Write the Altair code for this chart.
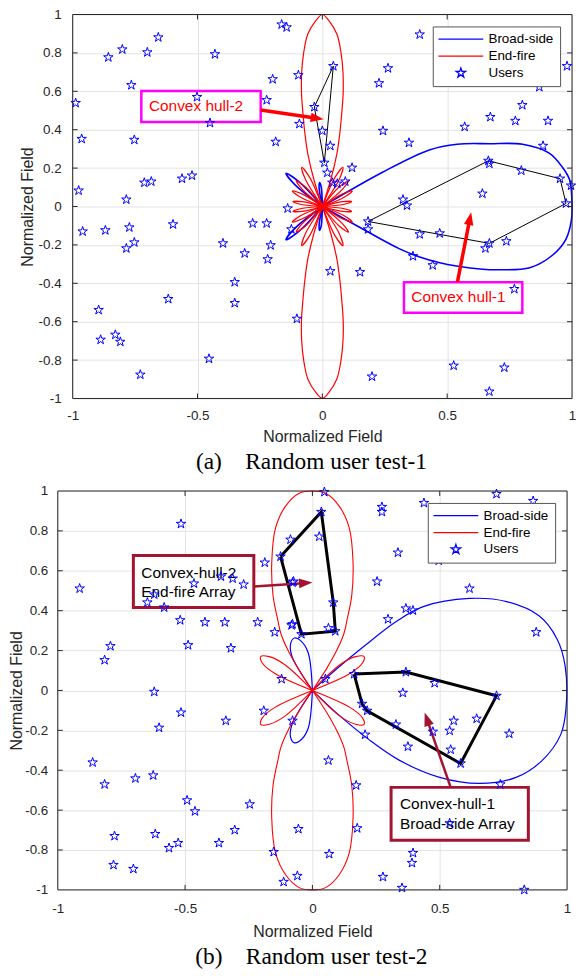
import math
import altair as alt
import pandas as pd

# ---------------- data ----------------
SERIES = ["Broad-side", "End-fire", "Users"]
X_TICKS = [-1, -0.5, 0, 0.5, 1]
Y_TICKS = [-1, -0.8, -0.6, -0.4, -0.2, 0, 0.2, 0.4, 0.6, 0.8, 1]

# panel (a) users
A_UX = [-0.988, -0.964, -0.976, -0.857, -0.801, -0.765, -0.701, -0.657, -0.753, -0.785,
        -0.713, -0.685, -0.562, -0.522, -0.502, -0.430, -0.450, -0.199, -0.223, -0.187,
        -0.163, -0.143, -0.139, -0.096, -0.092, -0.960, -0.869, -0.773, -0.785, -0.753,
        -0.598, -0.279, -0.223, -0.398, -0.311, -0.207, -0.219, -0.351, -0.351, -0.617,
        -0.896, -0.888, -0.829, -0.809, -0.729, -0.454, -0.102, -0.124, 0.390, 0.263,
        0.227, 0.044, -0.032, 0.000, 0.032, 0.008, 0.020, 0.119, 0.040, 0.060,
        0.092, 0.243, 0.347, 0.570, 0.673, 0.773, 0.801, 0.904, 0.869, 0.980,
        0.884, 0.665, 0.669, 0.797, 0.952, 0.996, 0.976, 0.641, 0.323, 0.339,
        0.183, 0.183, 0.390, 0.470, 0.653, 0.669, 0.737, 0.363, 0.442, 0.032,
        0.151, 0.769, 0.526, 0.729, 0.199, 0.669]
A_UY = [0.539, 0.352, 0.083, 0.777, 0.818, 0.632, 0.803, 0.881, 0.347, 0.036,
        0.124, 0.130, 0.145, 0.161, 0.570, 0.793, 0.435, 0.663, 0.554, 0.337,
        0.948, 0.933, -0.010, 0.684, 0.430, -0.130, -0.124, -0.109, -0.218, -0.187,
        -0.093, -0.088, -0.088, -0.192, -0.244, -0.202, -0.275, -0.394, -0.503, -0.482,
        -0.539, -0.694, -0.668, -0.705, -0.876, -0.793, -0.585, -0.119, 0.896, 0.720,
        0.642, 0.731, 0.518, 0.394, 0.316, 0.228, 0.176, 0.202, 0.124, 0.119,
        0.130, 0.394, 0.332, 0.415, 0.466, 0.446, 0.528, 0.446, 0.622, 0.731,
        0.316, 0.238, 0.223, 0.187, 0.145, 0.109, 0.016, 0.067, 0.036, 0.005,
        -0.078, -0.119, -0.145, -0.140, -0.218, -0.192, -0.181, -0.259, -0.306, -0.337,
        -0.342, -0.430, -0.829, -0.839, -0.886, -0.964]

# panel (b) users
B_UX = [-0.914, -0.816, -0.793, -0.516, -0.648, -0.621, -0.582, -0.465, -0.519, -0.488,
        -0.422, -0.344, -0.320, -0.359, -0.313, -0.270, -0.215, -0.187, -0.148, -0.125,
        -0.086, -0.082, -0.074, -0.121, -0.621, -0.516, -0.191, -0.043, 0.047, 0.035,
        0.027, -0.078, 0.082, 0.063, 0.090, -0.078, 0.273, 0.273, 0.438, 0.723,
        0.867, 0.336, 0.559, 0.496, 0.254, 0.617, 0.367, 0.395, 0.297, 0.879,
        0.051, 0.164, 0.367, 0.355, 0.480, 0.723, 0.195, 0.215, 0.328, 0.207,
        0.375, 0.473, 0.539, 0.555, 0.645, 0.773, 0.543, 0.582, 0.063, 0.172,
        0.738, -0.055, 0.176, 0.539, 0.066, 0.395, 0.391, -0.059, 0.277, 0.352,
        0.832, -0.602, -0.340, -0.078, -0.863, -0.816, -0.695, -0.625, -0.492, -0.461,
        -0.246, -0.777, -0.617, -0.563, -0.527, -0.367, -0.305, -0.152, -0.781, -0.703,
        -0.113]
B_UY = [0.511, 0.152, 0.222, 0.835, 0.441, 0.481, 0.416, 0.536, 0.352, 0.227,
        0.342, 0.342, 0.212, 0.571, 0.561, 0.531, 0.342, 0.641, 0.292, 0.671,
        0.756, 0.327, 0.546, 0.057, -0.007, -0.111, -0.102, 0.282, 0.995, 0.895,
        0.771, 0.541, 0.441, 0.312, 0.297, 0.332, 0.920, 0.895, 0.940, 0.985,
        0.950, 0.691, 0.701, 0.651, 0.546, 0.511, 0.411, 0.401, 0.357, 0.292,
        0.057, 0.082, 0.092, -0.012, 0.037, -0.027, -0.067, -0.102, -0.171, -0.222,
        -0.282, -0.207, -0.202, -0.152, -0.142, -0.217, -0.297, -0.366, -0.351, -0.476,
        -0.471, -0.695, -0.691, -0.666, -0.820, -0.815, -0.865, -0.930, -0.935, -0.990,
        -1.0, -0.187, -0.152, -0.152, -0.361, -0.471, -0.441, -0.426, -0.551, -0.606,
        -0.571, -0.730, -0.720, -0.790, -0.765, -0.765, -0.700, -0.810, -0.875, -0.895,
        -0.960]

# convex hulls (closed polygons)
A_HULL1_X = [0.183, 0.665, 0.952, 0.976, 0.669, 0.183]
A_HULL1_Y = [-0.078, 0.238, 0.145, 0.016, -0.192, -0.078]
A_HULL2_X = [0.044, -0.032, 0.008, 0.044]
A_HULL2_Y = [0.731, 0.518, 0.228, 0.731]
B_HULL1_X = [0.164, 0.367, 0.723, 0.582, 0.215, 0.195, 0.164]
B_HULL1_Y = [0.082, 0.092, -0.027, -0.366, -0.102, -0.067, 0.082]
B_HULL2_X = [-0.125, 0.035, 0.082, 0.090, -0.043, -0.125]
B_HULL2_Y = [0.671, 0.895, 0.441, 0.297, 0.282, 0.671]

# radiation patterns: polar samples (angle in degrees, normalized radius)
A_BROAD_MAIN_ANG = [-37, -36, -35.5, -34, -32, -30, -27, -25, -21, -15.5, -10, -4,
                    2, 8, 12, 17, 22, 26, 31, 34.5, 36.5, 38]
A_BROAD_MAIN_R = [0, 0.2, 0.38, 0.47, 0.55, 0.62, 0.72, 0.78, 0.89, 0.955, 0.99, 1.0,
                  1.0, 1.0, 0.983, 0.95, 0.865, 0.746, 0.63, 0.52, 0.3, 0]
A_BROAD_BACK_ANG = [122, 126, 130, 134, 138]
A_BROAD_BACK_R = [0, 0.16, 0.226, 0.16, 0]
A_BROAD_VERT_ANG = [90, 92.5, 95, 97.5, 100]
A_BROAD_VERT_R = [0, 0.1, 0.125, 0.1, 0]

A_END_MAIN_DELTA = [-15, -13.5, -12, -10.5, -9, -8, -6.8, -5.4, -3.7, -1.5, 0,
                    1.5, 3.7, 5.4, 6.8, 8, 9, 10.5, 12, 13.5, 15]
A_END_MAIN_R = [0, 0.15, 0.28, 0.38, 0.5, 0.6, 0.7, 0.8, 0.9, 0.97, 1.0,
                0.97, 0.9, 0.8, 0.7, 0.6, 0.5, 0.38, 0.28, 0.15, 0]
A_END_PET_ANG = [[61, 64.5, 68, 71.5, 75], [44, 48, 52, 56.5, 61],
                 [24, 29, 34, 39, 44], [2, 7, 12, 17.5, 24]]
A_END_PET_R = [[0, 0.16, 0.22, 0.16, 0], [0, 0.12, 0.17, 0.12, 0],
               [0, 0.1, 0.145, 0.1, 0], [0, 0.085, 0.12, 0.085, 0]]

B_BROAD_MAIN_ANG = [-52, -50, -48, -45.7, -41.1, -35.4, -28.6, -21.3, -12.8, -5.3,
                    7, 14.9, 22.7, 30.3, 36.8, 44, 46.5, 47.5, 48.5, 50]
B_BROAD_MAIN_R = [0, 0.15, 0.33, 0.49, 0.663, 0.805, 0.911, 0.968, 1.0, 1.0,
                  1.0, 0.995, 0.966, 0.883, 0.77, 0.605, 0.47, 0.3, 0.15, 0]
B_BROAD_SIDE_ANG = [91, 95, 100, 105, 110, 115, 119]
B_BROAD_SIDE_R = [0, 0.19, 0.25, 0.272, 0.25, 0.19, 0]

B_END_MAIN_DELTA = [-29, -27, -25.5, -23.5, -21, -18, -14, -10, -6.5, -3, 0,
                    3, 6.5, 10, 14, 18, 21, 23.5, 25.5, 27, 29]
B_END_MAIN_R = [0, 0.12, 0.22, 0.31, 0.38, 0.5, 0.66, 0.83, 0.93, 0.99, 1.0,
                0.99, 0.93, 0.83, 0.66, 0.5, 0.38, 0.31, 0.22, 0.12, 0]
B_END_PET_CENTER = [40, 140, 220, 320]
B_END_PET_OFF = [-16, -10, -5, 0, 5, 10, 16]
B_END_PET_R = [0, 0.17, 0.24, 0.265, 0.24, 0.17, 0]

# annotations
A_BOX_X0 = [-0.725, 0.327]; A_BOX_X1 = [-0.247, 0.801]
A_BOX_Y0 = [0.44, -0.554];  A_BOX_Y1 = [0.601, -0.394]
A_TXT = ["Convex hull-2", "Convex hull-1"]
A_TXT_X = [-0.506, 0.545]; A_TXT_Y = [0.523, -0.473]
A_ARR_X0 = [-0.247, 0.541]; A_ARR_Y0 = [0.503, -0.394]
A_ARR_X1 = [0.005, 0.596];  A_ARR_Y1 = [0.454, -0.03]

B_BOX_X0 = [-0.703, 0.309]; B_BOX_X1 = [-0.23, 0.848]
B_BOX_Y0 = [0.416, -0.751]; B_BOX_Y1 = [0.676, -0.486]
B_TXT = ["Convex-hull-2", "End-fire Array", "Convex-hull-1", "Broad-side Array"]
B_TXT_X = [-0.672, -0.672, 0.344, 0.344]
B_TXT_Y = [0.591, 0.491, -0.571, -0.671]
B_ARR_X0 = [-0.23, 0.543]; B_ARR_Y0 = [0.521, -0.486]
B_ARR_X1 = [0.0, 0.441];   B_ARR_Y1 = [0.541, -0.111]

# ---------------- styling ----------------
BLUE = "#0000FF"; RED = "#FF0000"; MAG = "#FF00FF"; DRED = "#A2142F"
AXC = "#262626"; GRID = "#E3E3E3"
FONT = "Liberation Sans"; SERIF = "Liberation Serif"
STAR = ("M0,-1L0.2245,-0.309L0.951,-0.309L0.363,0.118L0.588,0.809L0,0.382"
        "L-0.588,0.809L-0.363,0.118L-0.951,-0.309L-0.2245,-0.309Z")
LEG_LINE = "M-4.5,0L4.5,0"
HEAD = "M0,-1L0.55,0.5L-0.55,0.5Z"


def lobe_rows(lobes, series, tag):
    rows = []
    for i, (angs, rads) in enumerate(lobes):
        for k, (a, r) in enumerate(zip(angs, rads)):
            t = math.radians(a)
            rows.append({"series": series, "lobe": f"{tag}{i}", "k": k,
                         "x": r * math.cos(t), "y": r * math.sin(t)})
    return pd.DataFrame(rows)


def quad_mirror(angs_list, rads_list):
    out = []
    for angs, rads in zip(angs_list, rads_list):
        out.append((angs, rads))
        out.append(([180 - a for a in angs], rads))
        out.append(([-a for a in angs], rads))
        out.append(([180 + a for a in angs], rads))
    return out


a_broad = [(A_BROAD_MAIN_ANG, A_BROAD_MAIN_R),
           (A_BROAD_BACK_ANG, A_BROAD_BACK_R),
           ([-a for a in A_BROAD_BACK_ANG], A_BROAD_BACK_R),
           (A_BROAD_VERT_ANG, A_BROAD_VERT_R),
           ([-a for a in A_BROAD_VERT_ANG], A_BROAD_VERT_R)]
a_end = [([90 + d for d in A_END_MAIN_DELTA], A_END_MAIN_R),
         ([270 + d for d in A_END_MAIN_DELTA], A_END_MAIN_R)] + quad_mirror(A_END_PET_ANG, A_END_PET_R)
b_broad = [(B_BROAD_MAIN_ANG, B_BROAD_MAIN_R),
           (B_BROAD_SIDE_ANG, B_BROAD_SIDE_R),
           ([-a for a in B_BROAD_SIDE_ANG], B_BROAD_SIDE_R)]
b_end = [([90 + d for d in B_END_MAIN_DELTA], B_END_MAIN_R),
         ([270 + d for d in B_END_MAIN_DELTA], B_END_MAIN_R)] + \
        [([c + o for o in B_END_PET_OFF], B_END_PET_R) for c in B_END_PET_CENTER]


def build_panel(p):
    W, H, sx, sy = p["W"], p["H"], p["sx"], p["sy"]
    xs_kw = dict(domain=[-1, 1], nice=False, zero=False)
    if p["xrange"] is not None:
        xs_kw["range"] = p["xrange"]
    xscale = alt.Scale(**xs_kw)
    yscale = alt.Scale(domain=[-1, 1], nice=False, zero=False)
    common = dict(grid=True, gridColor=GRID, gridWidth=1, domain=False, ticks=False, tickSize=0,
                  labelFont=FONT, labelFontSize=13.5, labelColor=AXC, labelFlush=False,
                  labelOverlap=False, labelExpr="toString(datum.value)",
                  title="Normalized Field", titleFont=FONT, titleFontSize=16,
                  titleFontWeight="normal", titleColor=AXC)
    xaxis = alt.Axis(values=X_TICKS, labelPadding=p["xlp"], titlePadding=p["xtp"], **common)
    yaxis = alt.Axis(values=Y_TICKS, labelPadding=p["ylp"], titlePadding=p["ytp"],
                     offset=p["yoff"], **common)

    def X(f="x"):
        return alt.X(f"{f}:Q", scale=xscale, axis=xaxis)

    def Y(f="y"):
        return alt.Y(f"{f}:Q", scale=yscale, axis=yaxis)

    legend = alt.Legend(title=None, orient="top-right", offset=p["legoff"], padding=6,
                        fillColor="white", strokeColor="#555555", labelFont=FONT,
                        labelFontSize=13.5, labelColor="black", symbolOffset=15.5,
                        labelOffset=21, rowPadding=2, symbolStrokeWidth=1.3, symbolSize=100)
    cscale = alt.Scale(domain=SERIES, range=[BLUE, RED, BLUE])
    sscale = alt.Scale(domain=SERIES, range=[LEG_LINE, LEG_LINE, STAR])
    color = alt.Color("series:N", scale=cscale, legend=legend)

    layers = []
    # patterns
    for df, w in ((p["broad"], p["bw"]), (p["end"], p["ew"])):
        layers.append(alt.Chart(df).mark_line(interpolate="catmull-rom", strokeWidth=w).encode(
            x=X(), y=Y(), color=color, detail="lobe:N", order="k:Q"))
    # hulls
    hrows = []
    for hi, (hx, hy) in enumerate(p["hulls"]):
        for k, (vx, vy) in enumerate(zip(hx, hy)):
            hrows.append({"hull": hi, "k": k, "x": vx, "y": vy})
    layers.append(alt.Chart(pd.DataFrame(hrows)).mark_line(color="black", strokeWidth=p["hw"]).encode(
        x=X(), y=Y(), detail="hull:N", order="k:Q"))
    # annotation boxes
    bdf = pd.DataFrame({"x": p["bx0"], "x2": p["bx1"], "y": p["by0"], "y2": p["by1"]})
    layers.append(alt.Chart(bdf).mark_rect(fill="white", stroke=p["bcol"], strokeWidth=p["bsw"]).encode(
        x=X(), x2=alt.X2("x2:Q"), y=Y(), y2=alt.Y2("y2:Q")))
    tdf = pd.DataFrame({"x": p["tx"], "y": p["ty"], "t": p["txt"]})
    layers.append(alt.Chart(tdf).mark_text(font=FONT, fontSize=15.5, color=p["tcol"],
                                            align=p["talign"], baseline="middle").encode(
        x=X(), y=Y(), text="t:N"))
    # arrows
    arows, hrows2 = [], []
    sc = math.sqrt(p["head"]) / 2
    for x0, y0, x1, y1 in zip(p["ax0"], p["ay0"], p["ax1"], p["ay1"]):
        dxp = (x1 - x0) * sx
        dyp = -(y1 - y0) * sy
        L = math.hypot(dxp, dyp)
        ux, uy = dxp / L, dyp / L
        cx = x1 - ux * sc / sx
        cy = y1 + uy * sc / sy
        ang = math.degrees(math.atan2(ux, -uy)) % 360
        arows.append({"x": x0, "y": y0, "x2": cx, "y2": cy})
        hrows2.append({"x": cx, "y": cy, "ang": ang})
    layers.append(alt.Chart(pd.DataFrame(arows)).mark_rule(color=p["acol"], strokeWidth=p["asw"]).encode(
        x=X(), y=Y(), x2=alt.X2("x2:Q"), y2=alt.Y2("y2:Q")))
    layers.append(alt.Chart(pd.DataFrame(hrows2)).mark_point(
        shape=HEAD, filled=True, size=p["head"], color=p["acol"], opacity=1).encode(
        x=X(), y=Y(), angle=alt.Angle("ang:Q", scale=None)))
    # users
    udf = pd.DataFrame({"x": p["ux"], "y": p["uy"], "series": "Users"})
    layers.append(alt.Chart(udf).mark_point(filled=False, size=100, strokeWidth=1, opacity=1).encode(
        x=X(), y=Y(), color=color, shape=alt.Shape("series:N", scale=sscale, legend=legend)))
    # inner ticks (MATLAB style) and frame
    Lx, Ly = 5 / sx, 5 / sy
    trows = []
    for v in X_TICKS[1:-1]:
        trows += [{"x": v, "y": -1, "x2": v, "y2": -1 + Ly}, {"x": v, "y": 1, "x2": v, "y2": 1 - Ly}]
    for v in Y_TICKS[1:-1]:
        trows += [{"x": -1, "y": v, "x2": -1 + Lx, "y2": v}, {"x": 1, "y": v, "x2": 1 - Lx, "y2": v}]
    layers.append(alt.Chart(pd.DataFrame(trows)).mark_rule(color=AXC, strokeWidth=1).encode(
        x=X(), y=Y(), x2=alt.X2("x2:Q"), y2=alt.Y2("y2:Q")))
    fdf = pd.DataFrame({"x": [-1], "x2": [1], "y": [-1], "y2": [1]})
    layers.append(alt.Chart(fdf).mark_rect(fill="transparent", stroke=AXC, strokeWidth=1).encode(
        x=X(), x2=alt.X2("x2:Q"), y=Y(), y2=alt.Y2("y2:Q")))

    title = alt.TitleParams(text=p["caption"], orient="bottom", anchor="middle", frame="group",
                            font=SERIF, fontSize=23.5, fontWeight="normal", color="black",
                            offset=p["capoff"], dx=p["capdx"])
    return alt.layer(*layers).properties(width=W, height=H, title=title)


NB = "\u00a0" * 4
panel_a = build_panel(dict(
    W=517, H=386, xrange=[15, 517], sx=251, sy=193, yoff=-15, ylp=11.5, ytp=3, xlp=10, xtp=7,
    legoff=12, capoff=5, capdx=-3.5, caption="(a)" + NB + "Random user test-1",
    broad=lobe_rows(a_broad, "Broad-side", "ab"), end=lobe_rows(a_end, "End-fire", "ae"),
    bw=1.6, ew=1.2, hulls=[(A_HULL1_X, A_HULL1_Y), (A_HULL2_X, A_HULL2_Y)], hw=1,
    bx0=A_BOX_X0, bx1=A_BOX_X1, by0=A_BOX_Y0, by1=A_BOX_Y1, bcol=MAG, bsw=2.5,
    tx=A_TXT_X, ty=A_TXT_Y, txt=A_TXT, tcol=RED, talign="center",
    ax0=A_ARR_X0, ay0=A_ARR_Y0, ax1=A_ARR_X1, ay1=A_ARR_Y1, acol=RED, asw=3.5, head=300,
    ux=A_UX, uy=A_UY))

panel_b = build_panel(dict(
    W=512, H=401, xrange=None, sx=256, sy=200.5, yoff=0, ylp=10, ytp=0, xlp=12, xtp=8,
    legoff=12, capoff=6.5, capdx=-1, caption="(b)" + NB + "Random user test-2",
    broad=lobe_rows(b_broad, "Broad-side", "bb"), end=lobe_rows(b_end, "End-fire", "be"),
    bw=1.2, ew=1.1, hulls=[(B_HULL1_X, B_HULL1_Y), (B_HULL2_X, B_HULL2_Y)], hw=3,
    bx0=B_BOX_X0, bx1=B_BOX_X1, by0=B_BOX_Y0, by1=B_BOX_Y1, bcol=DRED, bsw=3,
    tx=B_TXT_X, ty=B_TXT_Y, txt=B_TXT, tcol="black", talign="left",
    ax0=B_ARR_X0, ay0=B_ARR_Y0, ax1=B_ARR_X1, ay1=B_ARR_Y1, acol=DRED, asw=2.5, head=324,
    ux=B_UX, uy=B_UY))

chart = alt.vconcat(panel_a, panel_b, spacing=11).resolve_scale(
    color="independent", shape="independent", x="independent", y="independent"
).resolve_legend(color="independent", shape="independent").properties(
    padding={"left": 0, "top": -3, "right": -2, "bottom": 0}
).configure_view(strokeWidth=0)

chart.save("out.html", embed_options={"renderer": "svg", "actions": False})
